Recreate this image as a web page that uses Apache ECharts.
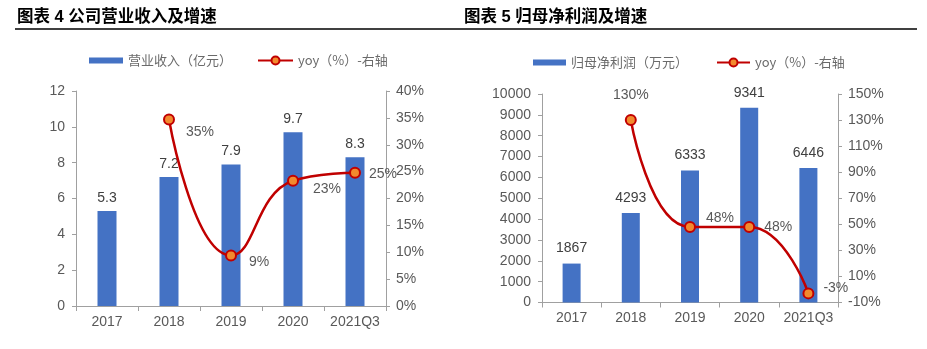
<!DOCTYPE html>
<html>
<head>
<meta charset="utf-8">
<script src="https://cdn.jsdelivr.net/npm/echarts@6/dist/echarts.min.js"></script>
<style>
  html, body { margin: 0; padding: 0; background: #fff; }
  #chart { width: 927px; height: 349px; }
</style>
</head>
<body>
<div id="chart"></div>
<script>
// ---- data ----
const categories = ['2017', '2018', '2019', '2020', '2021Q3'];
const revenue = [5.3, 7.2, 7.9, 9.7, 8.3];           // 营业收入（亿元）
const revenueYoy = [null, 34.7, 9.4, 23.3, 24.8];   // yoy (%)
const profit = [1867, 4293, 6333, 9341, 6446];      // 归母净利润（万元）
const profitYoy = [null, 130, 48, 48, -3];          // yoy (%)
const revenueRightTicks = [0, 5, 10, 15, 20, 25, 30, 35, 40];
const profitRightTicks = [-10, 10, 30, 50, 70, 90, 110, 130, 150];
const title1 = '图表 4 公司营业收入及增速';
const title2 = '图表 5 归母净利润及增速';
const legendBar1 = '营业收入（亿元）';
const legendBar2 = '归母净利润（万元）';
const legendLine = 'yoy（%）-右轴';

// ---- styles ----
const NUM_FONT = '"Liberation Sans", Arial, "Noto Sans CJK SC", sans-serif';
const CJK_FONT = '"Noto Sans CJK SC", "Liberation Sans", sans-serif';
const AXIS_COLOR = '#A0A0A0';
const TEXT_COLOR = '#595959';
const BAR_COLOR = '#4472C4';
const LINE_COLOR = '#C00000';
const DOT_COLOR = '#F28A2E';

function yAxisBase(extra) {
  return Object.assign({
    type: 'value',
    splitLine: { show: false },
    axisLine: { show: true, lineStyle: { color: AXIS_COLOR, width: 1 } },
    axisTick: { show: true, length: 4, inside: false, lineStyle: { color: AXIS_COLOR } },
    axisLabel: { color: TEXT_COLOR, fontSize: 14, fontFamily: NUM_FONT }
  }, extra);
}
function xAxisBase(gridIndex) {
  return {
    type: 'category', gridIndex: gridIndex, data: categories,
    axisLine: { show: true, lineStyle: { color: AXIS_COLOR, width: 1 } },
    axisTick: { show: true, length: 5, alignWithLabel: false, interval: 0, lineStyle: { color: AXIS_COLOR } },
    axisLabel: { color: TEXT_COLOR, fontSize: 14, fontFamily: NUM_FONT, margin: 9, interval: 0 }
  };
}
function yoyItems(vals, layouts) {
  return vals.map((v, i) => v == null ? '-' : { value: v, label: layouts[i] });
}
const lineCommon = {
  type: 'line', smooth: true, symbol: 'circle', symbolSize: 10, z: 5,
  lineStyle: { color: LINE_COLOR, width: 2.5 },
  itemStyle: { color: DOT_COLOR, borderColor: LINE_COLOR, borderWidth: 2 },
  label: {
    show: true, color: TEXT_COLOR, fontSize: 14, fontFamily: NUM_FONT,
    formatter: p => Math.round(p.value) + '%'
  }
};
const barLabel = { show: true, position: 'top', distance: 6, color: '#404040', fontSize: 14, fontFamily: NUM_FONT };
const legendText = { fontSize: 13, color: '#6a6a6a', fontFamily: CJK_FONT };

const chart = echarts.init(document.getElementById('chart'), null, { renderer: 'canvas' });
chart.setOption({
  backgroundColor: '#fff',
  animation: false,
  title: [
    { text: title1, left: 17, top: 9, padding: 0, textStyle: { fontSize: 16.5, fontWeight: 'bold', color: '#000', fontFamily: NUM_FONT } },
    { text: title2, left: 464, top: 9, padding: 0, textStyle: { fontSize: 16.5, fontWeight: 'bold', color: '#000', fontFamily: NUM_FONT } }
  ],
  graphic: [
    { type: 'line', shape: { x1: 15, y1: 29, x2: 917, y2: 29 }, style: { stroke: '#000', lineWidth: 1.5 } }
  ],
  legend: [
    { data: [{ name: legendBar1, icon: 'rect' }], left: 89, top: 54, padding: 0, itemWidth: 34, itemHeight: 6, textStyle: legendText },
    { data: [legendLine], left: 257, top: 54, padding: 0, itemWidth: 35, itemHeight: 10, textStyle: legendText },
    { data: [{ name: legendBar2, icon: 'rect' }], left: 533, top: 56, padding: 0, itemWidth: 33, itemHeight: 6, textStyle: legendText },
    { data: [legendLine + ' '], left: 716, top: 56, padding: 0, itemWidth: 33, itemHeight: 10, textStyle: legendText,
      formatter: n => n.trim() }
  ],
  grid: [
    { left: 76, top: 91, width: 310, height: 215 },
    { left: 542, top: 94, width: 296, height: 208.5 }
  ],
  xAxis: [xAxisBase(0), xAxisBase(1)],
  yAxis: [
    yAxisBase({ gridIndex: 0, min: 0, max: 12, interval: 2,
      axisLabel: { color: TEXT_COLOR, fontSize: 14, fontFamily: NUM_FONT, margin: 11 } }),
    yAxisBase({ gridIndex: 0, position: 'right', min: 0, max: 40,
      axisTick: { show: true, length: 4, lineStyle: { color: AXIS_COLOR }, customValues: revenueRightTicks },
      axisLabel: { color: TEXT_COLOR, fontSize: 14, fontFamily: NUM_FONT, margin: 10, formatter: '{value}%', customValues: revenueRightTicks } }),
    yAxisBase({ gridIndex: 1, min: 0, max: 10000, interval: 1000,
      axisLabel: { color: TEXT_COLOR, fontSize: 14, fontFamily: NUM_FONT, margin: 11, formatter: v => String(v) } }),
    yAxisBase({ gridIndex: 1, position: 'right', min: -10, max: 150,
      axisTick: { show: true, length: 4, lineStyle: { color: AXIS_COLOR }, customValues: profitRightTicks },
      axisLabel: { color: TEXT_COLOR, fontSize: 14, fontFamily: NUM_FONT, margin: 10, formatter: '{value}%', customValues: profitRightTicks } })
  ],
  series: [
    { name: legendBar1, type: 'bar', xAxisIndex: 0, yAxisIndex: 0, data: revenue, barWidth: 19,
      itemStyle: { color: BAR_COLOR }, label: barLabel },
    Object.assign({}, lineCommon, { name: legendLine, xAxisIndex: 0, yAxisIndex: 1,
      data: yoyItems(revenueYoy, [null,
        { position: 'right', distance: 11, offset: [0, 13] },
        { position: 'right', distance: 12, offset: [0, 7] },
        { position: 'right', distance: 14, offset: [0, 8] },
        { position: 'right', distance: 8, offset: [0, 1] }]) }),
    { name: legendBar2, type: 'bar', xAxisIndex: 1, yAxisIndex: 2, data: profit, barWidth: 18,
      itemStyle: { color: BAR_COLOR }, label: Object.assign({}, barLabel, { distance: 8 }) },
    Object.assign({}, lineCommon, { name: legendLine + ' ', xAxisIndex: 1, yAxisIndex: 3,
      data: yoyItems(profitYoy, [null,
        { position: 'top', distance: 12 },
        { position: 'right', distance: 10, offset: [0, -9] },
        { position: 'right', distance: 9, offset: [0, 0] },
        { position: 'right', distance: 9, offset: [0, -5] }]) })
  ]
});
</script>
</body>
</html>
